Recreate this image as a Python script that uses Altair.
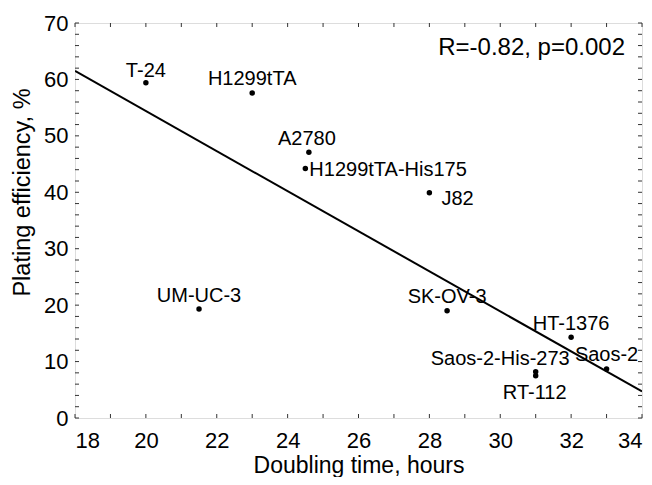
import altair as alt
import pandas as pd

# --- data ---
names = ["T-24", "H1299tTA", "A2780", "H1299tTA-His175", "J82", "UM-UC-3",
         "SK-OV-3", "HT-1376", "Saos-2", "Saos-2-His-273", "RT-112"]
doubling = [20.0, 23.0, 24.6, 24.5, 28.0, 21.5, 28.5, 32.0, 33.0, 31.0, 31.0]
plating = [59.4, 57.6, 47.1, 44.2, 39.9, 19.3, 19.0, 14.3, 8.7, 8.2, 7.5]

fit_x = [18, 34]
fit_y = [61.5, 4.7]

x_tick_values = list(range(18, 35, 1))
y_tick_values = list(range(0, 71, 2))
x_label_values = list(range(18, 35, 2))
y_label_values = list(range(0, 71, 10))

stat_text = "R=-0.82, p=0.002"

# --- label placement (styling) ---
label_style = {
    "T-24": ("center", 0, -6),
    "H1299tTA": ("center", 0, -7.5),
    "A2780": ("center", -2, -7),
    "H1299tTA-His175": ("left", 4, 7.5),
    "J82": ("left", 12, 12.5),
    "UM-UC-3": ("center", 0, -7.5),
    "SK-OV-3": ("center", 0, -7.5),
    "HT-1376": ("center", 0, -7.5),
    "Saos-2": ("center", 0, -8),
    "Saos-2-His-273": ("right", 34, -6.5),
    "RT-112": ("center", -1, 23.5),
}

W, H = 567, 395
FONT = "Liberation Sans"

pts = pd.DataFrame({"name": names, "x": doubling, "y": plating})
fit = pd.DataFrame({"x": fit_x, "y": fit_y})
xt = pd.DataFrame({"v": x_tick_values})
yt = pd.DataFrame({"v": y_tick_values})

xs = alt.Scale(domain=[18, 34], nice=False, zero=False)
ys = alt.Scale(domain=[0, 70], nice=False, zero=False)

x_axis = alt.Axis(values=x_label_values, ticks=False, tickSize=0, domain=False, grid=False,
                  labelFont=FONT, labelFontSize=22, labelColor="black", labelPadding=12,
                  title="Doubling time, hours", titleFont=FONT, titleFontSize=23,
                  titleFontWeight="normal", titleColor="black",
                  titleX=283.5, titleY=54, titleBaseline="alphabetic", titleAlign="center")
y_axis = alt.Axis(values=y_label_values, ticks=False, tickSize=0, domain=False, grid=False,
                  labelFont=FONT, labelFontSize=22, labelColor="black", labelPadding=7,
                  title="Plating efficiency, %", titleFont=FONT, titleFontSize=23.5,
                  titleFontWeight="normal", titleColor="black",
                  titleX=-46, titleY=169, titleAlign="center", titleBaseline="alphabetic",
                  titleAngle=270)

line = alt.Chart(fit).mark_line(color="black", strokeWidth=2, clip=True).encode(
    x=alt.X("x:Q", scale=xs, axis=x_axis),
    y=alt.Y("y:Q", scale=ys, axis=y_axis),
)

dots = alt.Chart(pts).mark_circle(color="black", size=30, opacity=1).encode(
    x=alt.X("x:Q", scale=xs), y=alt.Y("y:Q", scale=ys)
)

label_layers = []
for nm in names:
    al, dx, dy = label_style[nm]
    label_layers.append(
        alt.Chart(pts[pts["name"] == nm]).mark_text(
            align=al, baseline="alphabetic", dx=dx, dy=dy, font=FONT, fontSize=20, color="black"
        ).encode(x=alt.X("x:Q", scale=xs), y=alt.Y("y:Q", scale=ys), text="name:N")
    )

tick_bottom = alt.Chart(xt).mark_rule(color="#333", strokeWidth=1).encode(
    x=alt.X("v:Q", scale=xs), y=alt.value(H), y2=alt.value(H - 4))
tick_top = alt.Chart(xt).mark_rule(color="#333", strokeWidth=1).encode(
    x=alt.X("v:Q", scale=xs), y=alt.value(0), y2=alt.value(4))
tick_left = alt.Chart(yt).mark_rule(color="#333", strokeWidth=1).encode(
    y=alt.Y("v:Q", scale=ys), x=alt.value(0), x2=alt.value(4))
tick_right = alt.Chart(yt).mark_rule(color="#333", strokeWidth=1).encode(
    y=alt.Y("v:Q", scale=ys), x=alt.value(W), x2=alt.value(W - 4))

stat = alt.Chart(pd.DataFrame({"t": [stat_text]})).mark_text(
    align="right", baseline="alphabetic", font=FONT, fontSize=24, color="black"
).encode(x=alt.value(550), y=alt.value(31.5), text="t:N")

chart = alt.layer(
    tick_bottom, tick_top, tick_left, tick_right, line, dots, *label_layers, stat
).properties(
    width=W, height=H,
    autosize=alt.AutoSizeParams(type="none"),
    padding={"left": 67, "top": 15, "right": 2, "bottom": 59},
).configure_view(stroke="#222", strokeWidth=1.5).configure(background="white")

chart.save("out.html", embed_options={"renderer": "svg", "actions": False})
